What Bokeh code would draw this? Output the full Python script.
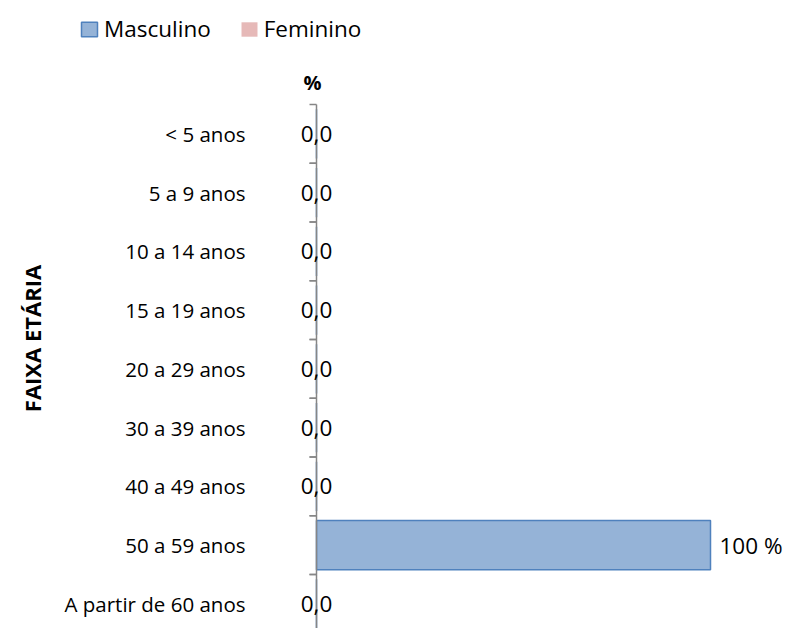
import math
from bokeh.plotting import figure
from bokeh.models import (ColumnDataSource, Range1d, Label, Legend, LegendItem)
from bokeh.transform import dodge
from bokeh.embed import file_html
from bokeh.resources import INLINE

# ---- data ----
categories = ["< 5 anos", "5 a 9 anos", "10 a 14 anos", "15 a 19 anos",
              "20 a 29 anos", "30 a 39 anos", "40 a 49 anos", "50 a 59 anos",
              "A partir de 60 anos"]
masculino = [0, 0, 0, 0, 0, 0, 0, 100, 0]
feminino = [0, 0, 0, 0, 0, 0, 0, 0, 0]
series_names = ["Masculino", "Feminino"]
axis_title = "FAIXA ETÁRIA"
value_title = "%"


def fmt(v):
    return "0,0" if v == 0 else f"{v:.0f} %"


FONT = "Open Sans"
n = len(categories)
pos = list(range(n))  # category order, top to bottom

src = ColumnDataSource(dict(
    cat=categories,
    pos=pos,
    masc=masculino,
    fem_left=[-v for v in feminino],
    zero=[0] * n,
    lab_zero=[fmt(v) if v == 0 else "" for v in masculino],
    lab_pos=[fmt(v) if v != 0 else "" for v in masculino],
))

# category band = 58.75 px, first band top at 104 px; value 0 at 316 px, 100 at 710 px
p = figure(width=786, height=628, output_backend="svg", toolbar_location=None,
           y_range=Range1d(-0.5 + 524 / 58.75, -0.5 - 104 / 58.75),
           x_range=Range1d(-316 / 3.94, 470 / 3.94),
           x_axis_location=None, y_axis_location=None,
           min_border=0)
p.outline_line_color = None
p.grid.visible = False
p.background_fill_color = "white"

# bars
r_m = p.hbar(y="pos", left=0, right="masc", height=0.84, source=src,
             fill_color="#95B3D7", line_color="#4F81BD", line_width=1.5)
r_f = p.hbar(y="pos", left="fem_left", right=0, height=0.84, source=src,
             fill_color="#E6B9B8", line_color="#E6B9B8", line_width=0)

# vertical category axis at zero with ticks at category boundaries
p.segment(x0=0, y0=-0.5, x1=0, y1=n, line_color="#868686", line_width=1.5)
for off in (0.5, -0.5):
    p.ray(x=0, y=dodge("pos", off), length=7,
          length_units="screen", angle=math.pi, source=src,
          line_color="#868686", line_width=1.5)

# category labels
p.text(x="zero", y="pos", text="cat", source=src, text_align="right",
       text_baseline="middle", text_font_size="20.5px", text_color="black",
       x_offset=-71, text_font={"value": FONT})

# value labels
p.text(x="zero", y="pos", text="lab_zero", source=src, text_align="center",
       text_baseline="middle", text_font_size="22.5px", text_color="black",
       text_font={"value": FONT})
p.text(x="masc", y="pos", text="lab_pos", source=src, text_align="left",
       text_baseline="middle", text_font_size="22.5px", text_color="black",
       x_offset=9, text_font={"value": FONT})

# titles
p.add_layout(Label(x=0, y=-0.5, text=value_title, x_offset=-4,
                   y_offset=22, text_align="center", text_baseline="middle",
                   text_font=FONT, text_font_size="20px",
                   text_font_style="bold", text_color="black"))
p.add_layout(Label(x=-285 / 3.94, y=-0.5 + 234 / 58.75, text=axis_title,
                   angle=math.pi / 2,
                   text_align="center", text_baseline="middle",
                   text_font=FONT, text_font_size="22px",
                   text_font_style="bold", text_color="black"))

legend = Legend(items=[LegendItem(label=series_names[0], renderers=[r_m]),
                       LegendItem(label=series_names[1], renderers=[r_f])],
                location=(79, 584), orientation="horizontal",
                glyph_width=20, glyph_height=18, label_standoff=5,
                spacing=28, padding=0, margin=0,
                border_line_alpha=0, background_fill_alpha=0,
                label_text_font=FONT, label_text_font_size="22.5px",
                label_text_color="black")
p.add_layout(legend)

open("out.html", "w").write(file_html(p, INLINE))
